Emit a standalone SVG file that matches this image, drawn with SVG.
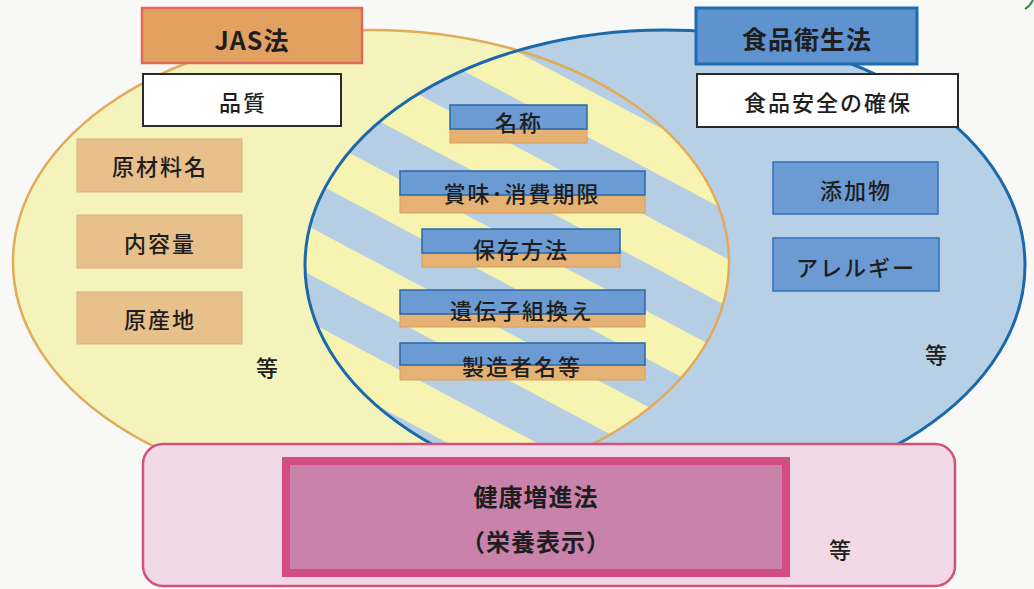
<svg xmlns="http://www.w3.org/2000/svg" width="1034" height="589" viewBox="0 0 1034 589">
<style>
text{font-family:'Noto Sans CJK JP','Noto Sans',sans-serif;fill:#1e1e1e;text-anchor:middle;dominant-baseline:central;}
.t{font-size:22px;font-weight:500;letter-spacing:2px;}
.h{font-size:25px;font-weight:bold;letter-spacing:1px;}
.tan{fill:#e8c08c;stroke:#dcae7c;stroke-width:1;}
.blu{fill:#6b9bd2;stroke:#2f72b6;stroke-width:1.5;}
.wh{fill:#ffffff;stroke:#2a2a2a;stroke-width:2;}
.mb{fill:#6b9bd2;stroke:#2a68a8;stroke-width:1.5;}
.mo{fill:#e6b274;stroke:#d89c5c;stroke-width:1;}
</style>
<defs>
<pattern id="stripes" patternUnits="userSpaceOnUse" width="20" height="84" patternTransform="rotate(28)">
<rect x="0" y="0" width="20" height="84" fill="#f6f4b0"/>
<rect x="0" y="13" width="20" height="42" fill="#b6cee4"/>
</pattern>
<clipPath id="clipBlue"><ellipse cx="665" cy="265" rx="360" ry="235"/></clipPath>
<clipPath id="clipYellow"><ellipse cx="371" cy="262" rx="358" ry="232"/></clipPath>
</defs>
<rect x="0" y="0" width="1034" height="589" fill="#f8f8f6"/>
<path d="M1025 9 Q1030 6 1033 0" fill="none" stroke="#2e8a4a" stroke-width="2"/>

<g id="jas-ellipse">
<ellipse cx="371" cy="262" rx="358" ry="232" fill="#f4f3bc"/>
</g>
<g id="eisei-ellipse">
<ellipse cx="665" cy="265" rx="360" ry="235" fill="#b8d0e6"/>
</g>
<g id="overlap">
<g clip-path="url(#clipYellow)">
<rect x="290" y="20" width="460" height="480" fill="url(#stripes)" clip-path="url(#clipBlue)"/>
</g>
</g>
<g id="ellipse-outlines" fill="none">
<ellipse cx="371" cy="262" rx="358" ry="232" stroke="#e2ab58" stroke-width="2.5"/>
<ellipse cx="665" cy="265" rx="360" ry="235" stroke="#1b68aa" stroke-width="3"/>
</g>

<g id="jas-title">
<rect x="142" y="8" width="220" height="55" fill="#e3a161" stroke="#e2685a" stroke-width="2.5"/>
<text class="h" x="252" y="39">JAS法</text>
</g>
<g id="hinshitsu">
<rect class="wh" x="143" y="74" width="198" height="52"/>
<text class="t" x="243" y="101">品質</text>
</g>
<g id="genzairyo">
<rect class="tan" x="77" y="139" width="165" height="53"/>
<text class="t" x="160" y="165">原材料名</text>
</g>
<g id="naiyoryo">
<rect class="tan" x="77" y="215" width="165" height="53"/>
<text class="t" x="160" y="242">内容量</text>
</g>
<g id="gensanchi">
<rect class="tan" x="77" y="292" width="165" height="52"/>
<text class="t" x="160" y="318">原産地</text>
</g>
<g id="left-etc"><text class="t" x="268" y="366">等</text></g>

<g id="eisei-title">
<rect x="696" y="8" width="221" height="56" fill="#5f93cf" stroke="#1d6db5" stroke-width="3"/>
<text class="h" x="807" y="38">食品衛生法</text>
</g>
<g id="anzen">
<rect class="wh" x="697" y="74" width="261" height="53"/>
<text class="t" x="828" y="101">食品安全の確保</text>
</g>
<g id="tenkabutsu">
<rect class="blu" x="773" y="162" width="165" height="52"/>
<text class="t" x="856" y="189">添加物</text>
</g>
<g id="allergy">
<rect class="blu" x="773" y="238" width="166" height="53"/>
<text class="t" x="856" y="266">アレルギー</text>
</g>
<g id="right-etc"><text class="t" x="937" y="353">等</text></g>

<g id="meisho">
<rect class="mo" x="450" y="129" width="137" height="14"/>
<rect class="mb" x="450" y="105" width="137" height="24"/>
<text class="t" x="519" y="121">名称</text>
</g>
<g id="kigen">
<rect class="mo" x="400" y="195" width="245" height="18"/>
<rect class="mb" x="400" y="171" width="245" height="24"/>
<text class="t" x="522" y="192">賞味･消費期限</text>
</g>
<g id="hozon">
<rect class="mo" x="422" y="253" width="198" height="14"/>
<rect class="mb" x="422" y="229" width="198" height="24"/>
<text class="t" x="521" y="248">保存方法</text>
</g>
<g id="idenshi">
<rect class="mo" x="400" y="314" width="245" height="13"/>
<rect class="mb" x="400" y="290" width="245" height="24"/>
<text class="t" x="522" y="309">遺伝子組換え</text>
</g>
<g id="seizousha">
<rect class="mo" x="400" y="365" width="245" height="15"/>
<rect class="mb" x="400" y="343" width="245" height="22"/>
<text class="t" x="522" y="365">製造者名等</text>
</g>

<g id="kenko">
<rect x="143" y="444" width="812" height="142" rx="20" ry="20" fill="#f1d9e5" stroke="#d1517f" stroke-width="2.5"/>
<rect x="286" y="461" width="500" height="112" fill="#c882ab" stroke="#d34c82" stroke-width="8"/>
<text x="536" y="495" style="font-size:24px;font-weight:700;letter-spacing:1px">健康増進法</text>
<text x="536" y="540" style="font-size:24px;font-weight:700;letter-spacing:1px">（栄養表示）</text>
<text class="t" x="841" y="548">等</text>
</g>
</svg>
